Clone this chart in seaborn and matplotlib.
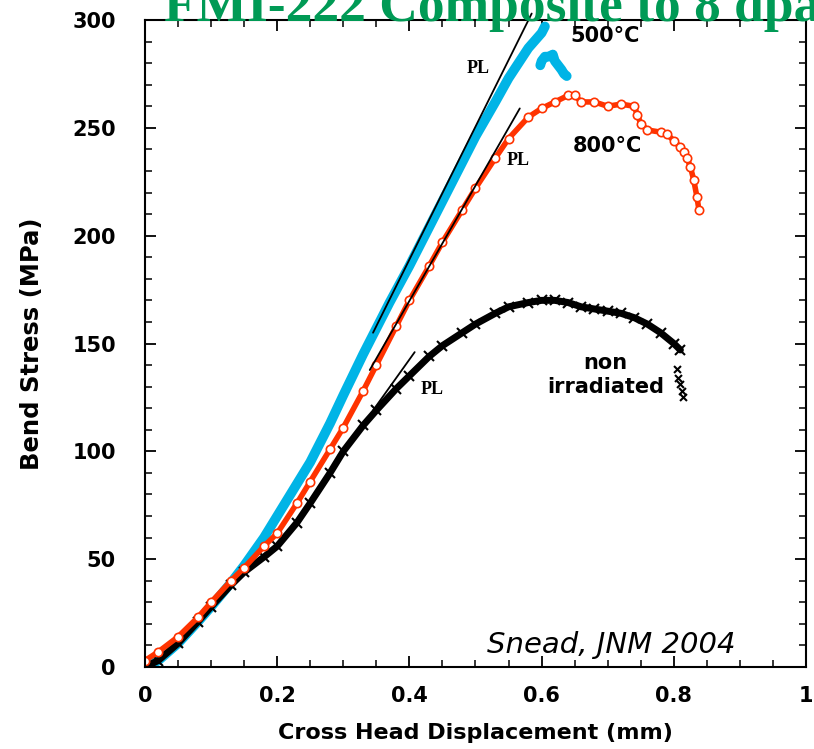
import numpy as np
import matplotlib
matplotlib.use("Agg")
import matplotlib.pyplot as plt
from matplotlib.ticker import MultipleLocator
import seaborn as sns

# ---- data ----
x_500 = [0, 0.02, 0.05, 0.08, 0.10, 0.13, 0.15, 0.18, 0.20, 0.23, 0.25, 0.28, 0.30,
         0.33, 0.35, 0.37, 0.40, 0.43, 0.45, 0.48, 0.50, 0.53, 0.55, 0.58, 0.60, 0.605]
s_500 = [0, 3, 11, 21, 28, 39, 47, 60, 70, 85, 95, 113, 126,
         145, 157, 169, 186, 204, 216, 234, 246, 262, 273, 287, 294, 297]
x_500_tail = [0.598, 0.600, 0.605, 0.611, 0.617, 0.620, 0.625, 0.630, 0.634, 0.638]
s_500_tail = [279, 281, 283, 283, 284, 281, 279, 277, 275, 274]

x_800 = [0, 0.02, 0.05, 0.08, 0.10, 0.13, 0.15, 0.18, 0.20, 0.23, 0.25, 0.28, 0.30,
         0.33, 0.35, 0.38, 0.40, 0.43, 0.45, 0.48, 0.50, 0.53, 0.55, 0.58, 0.60,
         0.62, 0.64, 0.65, 0.66, 0.68, 0.70, 0.72, 0.74, 0.745, 0.75, 0.76, 0.78,
         0.79, 0.80, 0.81, 0.815, 0.82, 0.825, 0.83, 0.835, 0.838]
s_800 = [3, 7, 14, 23, 30, 40, 46, 56, 62, 76, 86, 101, 111,
         128, 140, 158, 170, 186, 197, 212, 222, 236, 245, 255, 259,
         262, 265, 265, 262, 262, 260, 261, 260, 256, 252, 249, 248,
         247, 244, 241, 239, 236, 232, 226, 218, 212]

x_non = [0, 0.02, 0.05, 0.08, 0.10, 0.13, 0.15, 0.18, 0.20, 0.23, 0.25, 0.28, 0.30,
         0.33, 0.35, 0.38, 0.40, 0.43, 0.45, 0.48, 0.50, 0.53, 0.55, 0.58, 0.60,
         0.62, 0.64, 0.66, 0.68, 0.70, 0.72, 0.74, 0.76, 0.78, 0.80, 0.81]
s_non = [0, 3, 11, 21, 28, 38, 44, 51, 56, 67, 76, 90, 100,
         112, 119, 129, 135, 144, 149, 155, 159, 164, 167, 169, 170,
         170, 169, 167, 166, 165, 164, 162, 159, 155, 150, 147]
x_non_tail = [0.805, 0.807, 0.810, 0.812, 0.814]
s_non_tail = [138, 134, 131, 128, 125]

# proportional-limit tangent lines (end points)
pl_500 = ([0.345, 0.585], [155, 303])
pl_800 = ([0.340, 0.567], [137.7, 259])
pl_non = ([0.345, 0.408], [119, 146])

# ---- style ----
sns.set_style("ticks")
plt.rcParams.update({
    'font.family': ['DejaVu Sans'],
    'font.weight': 'bold',
    'text.color': 'black',
    'axes.labelcolor': 'black',
    'axes.edgecolor': 'black',
    'xtick.color': 'black', 'ytick.color': 'black',
    'axes.linewidth': 1.5,
    'xtick.direction': 'in', 'ytick.direction': 'in',
    'xtick.top': True, 'ytick.right': True,
    'xtick.major.size': 8, 'ytick.major.size': 8,
    'xtick.minor.size': 5, 'ytick.minor.size': 5,
    'xtick.major.width': 1.3, 'ytick.major.width': 1.3,
    'xtick.minor.width': 1.1, 'ytick.minor.width': 1.1,
})

BLUE = '#00b4e6'
RED = '#ff3300'

fig = plt.figure(figsize=(8.14, 7.49), dpi=100)
ax = fig.add_axes([145 / 814, 1 - 667 / 749, 661 / 814, 647 / 749])

# curves
sns.lineplot(x=x_500, y=s_500, ax=ax, color=BLUE, lw=7, sort=False, estimator=None)
sns.lineplot(x=x_500_tail, y=s_500_tail, ax=ax, color=BLUE, lw=7, sort=False, estimator=None)
sns.lineplot(x=x_non, y=s_non, ax=ax, color='black', lw=5, sort=False, estimator=None,
             marker='x', markersize=7, markeredgewidth=1.5, markeredgecolor='black')
sns.scatterplot(x=x_non_tail, y=s_non_tail, ax=ax, color='black', marker='x', s=25, linewidth=1.5)
sns.lineplot(x=x_800, y=s_800, ax=ax, color=RED, lw=4, sort=False, estimator=None,
             marker='o', markersize=6, markerfacecolor='white', markeredgecolor=RED,
             markeredgewidth=1.2)

for xs, ys in (pl_500, pl_800, pl_non):
    ax.plot(xs, ys, color='black', lw=1.3, clip_on=False)

ax.set_xlim(0, 1)
ax.set_ylim(0, 300)
ax.xaxis.set_minor_locator(MultipleLocator(0.05))
ax.yaxis.set_major_locator(MultipleLocator(50))
ax.yaxis.set_minor_locator(MultipleLocator(10))
ax.set_xticks([0, 0.2, 0.4, 0.6, 0.8, 1])
ax.set_xticklabels(['0', '0.2', '0.4', '0.6', '0.8', '1'])
ax.tick_params(axis='x', which='major', pad=14, labelsize=15)
ax.tick_params(axis='y', which='major', pad=21, labelsize=15)
for lab in ax.get_xticklabels() + ax.get_yticklabels():
    lab.set_fontweight('bold')

ax.set_xlabel('Cross Head Displacement (mm)', fontsize=16, fontweight='bold', labelpad=12)
ax.set_ylabel('Bend Stress (MPa)', fontsize=17.5, fontweight='bold', labelpad=20)

# annotations
ax.text(0.696, 292.5, '500°C', fontsize=15, fontweight='bold', ha='center', va='center')
ax.text(0.70, 241.5, '800°C', fontsize=15, fontweight='bold', ha='center', va='center')
ax.text(0.697, 141, 'non', fontsize=15, fontweight='bold', ha='center', va='center')
ax.text(0.697, 130, 'irradiated', fontsize=15, fontweight='bold', ha='center', va='center')
for px, py in ((0.504, 277.5), (0.564, 235), (0.434, 128.5)):
    ax.text(px, py, 'PL', fontsize=13, fontweight='bold', family='Liberation Serif',
            ha='center', va='center')
ax.text(0.705, 10, 'Snead, JNM 2004', fontsize=21, style='italic', fontweight='normal',
        ha='center', va='center')

fig.text(164 / 814, 1 - 21 / 749, 'FMI-222 Composite to 8 dpa', fontsize=38.5,
         fontweight='bold', family='Liberation Serif', color='#009a55',
         ha='left', va='baseline')

fig.savefig('out.png', dpi=100)
